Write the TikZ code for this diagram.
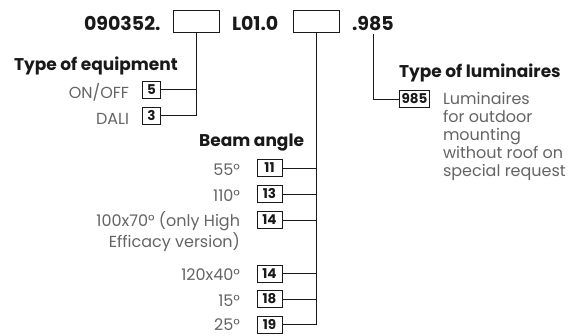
\documentclass[tikz,border=0pt]{standalone}
\usepackage{fontspec}
\setmainfont{Poppins}
\definecolor{txtgray}{RGB}{100,100,100}
\definecolor{ink}{RGB}{25,25,25}
\begin{document}
\begin{tikzpicture}[x=1pt,y=-1pt,
  every node/.style={inner sep=0pt,outer sep=0pt},
  code/.style={font=\bfseries\fontsize{19}{21}\selectfont,text=ink,anchor=base},
  slot/.style={draw=ink,line width=0.9pt,minimum width=46pt,minimum height=22pt},
  num/.style={draw=ink,line width=0.9pt,font=\bfseries\fontsize{13.5}{14}\selectfont,text=ink,inner xsep=2.5pt,inner ysep=1pt,minimum height=17pt,minimum width=18pt},
  wnum/.style={num,minimum width=25pt},
  head/.style={font=\bfseries\fontsize{17}{19}\selectfont,text=ink,anchor=base},
  lbl/.style={font=\fontsize{16}{18}\selectfont,text=txtgray,anchor=base east},
  desc/.style={font=\fontsize{16}{18}\selectfont,text=txtgray,anchor=base west},
  conn/.style={draw=ink,line width=0.9pt}]
\useasboundingbox (0,0) rectangle (578,336);
% top code
\node[code,anchor=base west] (c1) at (84,31) {090352.};
\node[slot] (s1) at (196,21) {};
\node[code,anchor=base west] (c2) at (232,31) {L01.0};
\node[slot] (s2) at (316.5,21) {};
\node[code,anchor=base west] (c3) at (352,31) {.985};
% type of equipment
\node[head,anchor=base west] (h1) at (14,70.5) {Type of equipment};
\node[lbl] (l5) at (129,98.5) {ON/OFF};
\node[num] (n5) at (151.5,89.5) {5};
\node[lbl] (l3) at (129,124.5) {DALI};
\node[num] (n3) at (151.5,115.5) {3};
\coordinate (e5) at (s1.south |- n5.east);
\coordinate (e3) at (s1.south |- n3.east);
\draw[conn] (s1.south) -- (e3) -- (n3.east);
\draw[conn] (n5.east) -- (e5);
% beam angle
\node[head,anchor=base east] (h2) at (304,147) {Beam angle};
\node[wnum] (b1) at (269.5,168) {11};
\node[lbl] (t1) at (240,175.5) {55°};
\node[wnum] (b2) at (269.5,194) {13};
\node[lbl] (t2) at (240,201.5) {110°};
\node[wnum] (b3) at (269.5,220) {14};
\node[lbl] (t3) at (240,227) {100x70° (only High};
\node[lbl] (t3b) at (240,247.5) {Efficacy version)};
\node[wnum] (b4) at (269.5,273.5) {14};
\node[lbl] (t4) at (240,281) {120x40°};
\node[wnum] (b5) at (269.5,299) {18};
\node[lbl] (t5) at (240,306.5) {15°};
\node[wnum] (b6) at (269.5,324.5) {19};
\node[lbl] (t6) at (240,331) {25°};
\draw[conn] (s2.south) -- (s2.south |- b6.east) -- (b6.east);
\foreach \b in {b1,b2,b3,b4,b5}{\draw[conn] (\b.east) -- (s2.south |- \b.east);}
% type of luminaires
\node[head,anchor=base west] (h3) at (399,77.5) {Type of luminaires};
\node[num] (l985) at (414.5,99) {985};
\coordinate (top3) at (373,34);
\draw[conn] (top3) -- (top3 |- l985.west) -- (l985.west);
\node[desc] (d1) at (443,104.5) {Luminaires};
\node[desc] (d2) at (443,122.5) {for outdoor};
\node[desc] (d3) at (443,140.5) {mounting};
\node[desc] (d4) at (443,158.5) {without roof on};
\node[desc] (d5) at (443,176.5) {special request};
\end{tikzpicture}
\end{document}
